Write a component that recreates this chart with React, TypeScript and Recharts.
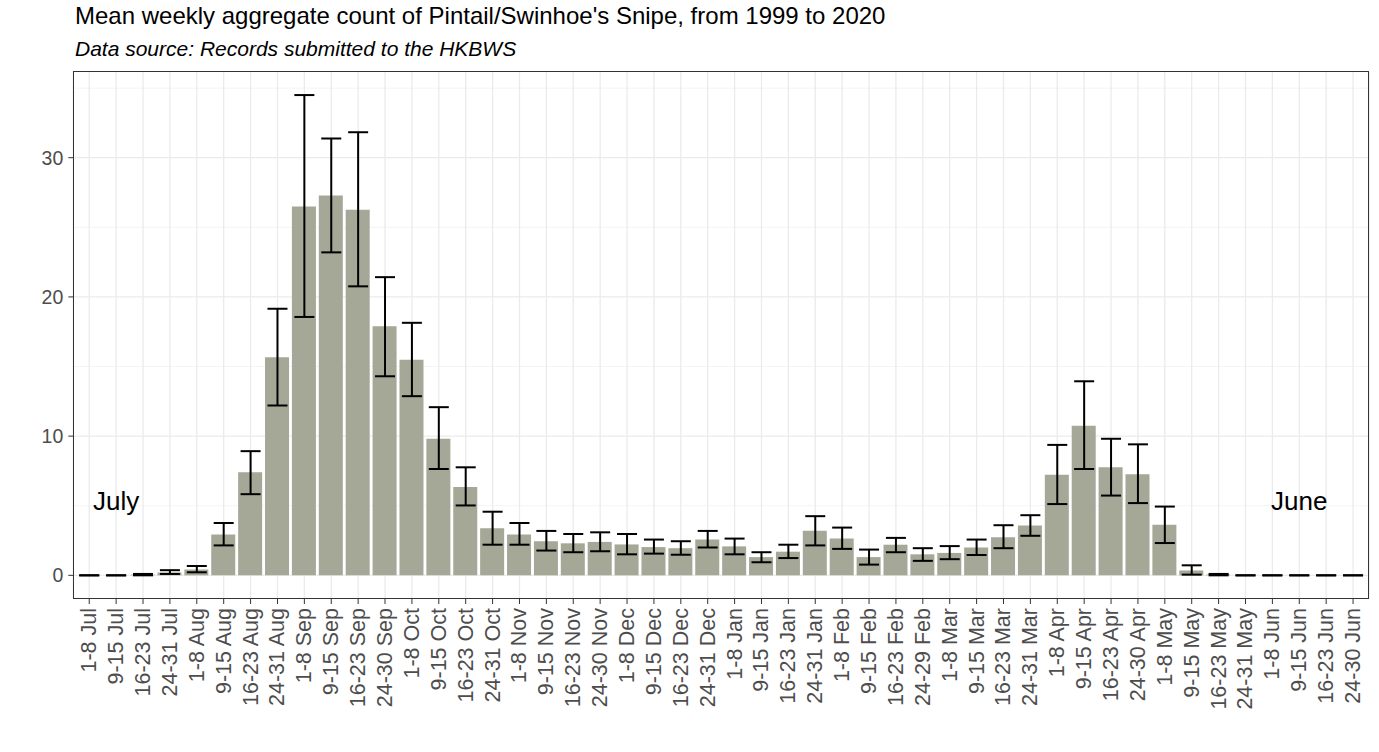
import { ComposedChart, Bar, Line, XAxis, YAxis, CartesianGrid, ErrorBar, ReferenceDot } from "recharts"

const weeks = [
  "1-8 Jul", "9-15 Jul", "16-23 Jul", "24-31 Jul",
  "1-8 Aug", "9-15 Aug", "16-23 Aug", "24-31 Aug",
  "1-8 Sep", "9-15 Sep", "16-23 Sep", "24-30 Sep",
  "1-8 Oct", "9-15 Oct", "16-23 Oct", "24-31 Oct",
  "1-8 Nov", "9-15 Nov", "16-23 Nov", "24-30 Nov",
  "1-8 Dec", "9-15 Dec", "16-23 Dec", "24-31 Dec",
  "1-8 Jan", "9-15 Jan", "16-23 Jan", "24-31 Jan",
  "1-8 Feb", "9-15 Feb", "16-23 Feb", "24-29 Feb",
  "1-8 Mar", "9-15 Mar", "16-23 Mar", "24-31 Mar",
  "1-8 Apr", "9-15 Apr", "16-23 Apr", "24-30 Apr",
  "1-8 May", "9-15 May", "16-23 May", "24-31 May",
  "1-8 Jun", "9-15 Jun", "16-23 Jun", "24-30 Jun",
]

// mean weekly aggregate count
const meanCount = [
  0, 0, 0.05, 0.2,
  0.42, 2.94, 7.41, 15.67,
  26.49, 27.28, 26.27, 17.89,
  15.49, 9.81, 6.35, 3.39,
  2.94, 2.45, 2.3, 2.4,
  2.22, 2.03, 1.95, 2.57,
  2.08, 1.31, 1.7, 3.21,
  2.64, 1.31, 2.2, 1.51,
  1.61, 2.0, 2.74, 3.58,
  7.22, 10.75, 7.76, 7.26,
  3.63, 0.35, 0.05, 0,
  0, 0, 0, 0,
]

// error bar ends
const lowerCount = [
  0, 0, 0, 0.1,
  0.22, 2.15, 5.83, 12.2,
  18.56, 23.2, 20.76, 14.3,
  12.87, 7.64, 5.02, 2.2,
  2.2, 1.78, 1.66, 1.73,
  1.51, 1.56, 1.48, 2.0,
  1.51, 0.94, 1.24, 2.15,
  1.9, 0.77, 1.66, 1.04,
  1.16, 1.46, 1.95, 2.84,
  5.12, 7.64, 5.73, 5.19,
  2.32, 0.05, 0, 0,
  0, 0, 0, 0,
]

const upperCount = [
  0, 0, 0.1, 0.37,
  0.67, 3.76, 8.92, 19.15,
  34.5, 31.38, 31.83, 21.42,
  18.14, 12.08, 7.76, 4.57,
  3.76, 3.19, 2.97, 3.09,
  2.97, 2.57, 2.45, 3.19,
  2.64, 1.66, 2.2, 4.25,
  3.43, 1.85, 2.69, 1.95,
  2.1, 2.57, 3.6, 4.32,
  9.37, 13.94, 9.81, 9.41,
  4.94, 0.72, 0.1, 0,
  0, 0, 0, 0,
]

const yTicks = [0, 10, 20, 30]
const yMinor = [5, 15, 25, 35]

const data = weeks.map((week, i) => ({
  week,
  mean: meanCount[i],
  err: [meanCount[i] - lowerCount[i], upperCount[i] - meanCount[i]],
}))

const W = 1379
const H = 752
const plot = { left: 73.3, top: 71.4, right: 1369, bottom: 599 }

const font = "'Liberation Sans', Arial, sans-serif"

function WeekTick(props: any) {
  const { x, y, payload } = props
  return (
    <text
      transform={`translate(${x},${y}) rotate(-90)`}
      textAnchor="end"
      dominantBaseline="central"
      fontFamily={font}
      fontSize={21.5}
      fill="#4d4d4d"
    >
      {payload.value}
    </text>
  )
}

export default function App() {
  return (
    <div style={{ position: "absolute", left: 0, top: 0, width: W, height: H, background: "#fff" }}>
      <div
        style={{
          position: "absolute",
          left: 75,
          top: 2,
          fontFamily: font,
          fontSize: 24,
          color: "#000",
          whiteSpace: "nowrap",
        }}
      >
        Mean weekly aggregate count of Pintail/Swinhoe's Snipe, from 1999 to 2020
      </div>
      <div
        style={{
          position: "absolute",
          left: 75,
          top: 37,
          fontFamily: font,
          fontSize: 21,
          fontStyle: "italic",
          color: "#000",
          whiteSpace: "nowrap",
        }}
      >
        Data source: Records submitted to the HKBWS
      </div>
      <ComposedChart
        width={W}
        height={H}
        data={data}
        margin={{ top: plot.top, right: W - plot.right, left: 0, bottom: 0 }}
        barSize={24}
      >
        <CartesianGrid horizontalValues={yMinor} vertical={false} stroke="#f4f4f4" strokeWidth={1} />
        <CartesianGrid horizontalValues={yTicks} stroke="#ebebeb" strokeWidth={1.3} />
        <XAxis
          dataKey="week"
          interval={0}
          height={H - plot.bottom}
          padding={{ left: 2.5, right: 2.5 }}
          axisLine={false}
          tickLine={{ stroke: "#333" }}
          tickSize={5}
          tickMargin={4}
          tick={<WeekTick />}
        />
        <YAxis
          width={plot.left}
          domain={[-1.7, 36.2]}
          ticks={yTicks}
          allowDataOverflow
          axisLine={false}
          tickLine={{ stroke: "#333" }}
          tickSize={5}
          tickMargin={5}
          tick={{ fontFamily: font, fontSize: 19.5, fill: "#4d4d4d" }}
        />
        <Bar dataKey="mean" fill="#a5a797" isAnimationActive={false} />
        <Line dataKey="mean" stroke="none" dot={false} activeDot={false} isAnimationActive={false}>
          <ErrorBar dataKey="err" direction="y" width={10} stroke="#000" strokeWidth={2} isAnimationActive={false} />
        </Line>
        <ReferenceDot
          x="9-15 Jul"
          y={5.35}
          r={0}
          fill="none"
          stroke="none"
          label={{ value: "July", position: "center", fontSize: 26, fill: "#000", fontFamily: font }}
        />
        <ReferenceDot
          x="9-15 Jun"
          y={5.35}
          r={0}
          fill="none"
          stroke="none"
          label={{ value: "June", position: "center", fontSize: 26, fill: "#000", fontFamily: font }}
        />
      </ComposedChart>
      <div
        style={{
          position: "absolute",
          left: plot.left,
          top: plot.top,
          width: plot.right - plot.left,
          height: plot.bottom - plot.top,
          border: "1.2px solid #333",
          boxSizing: "border-box",
          pointerEvents: "none",
        }}
      />
    </div>
  )
}
